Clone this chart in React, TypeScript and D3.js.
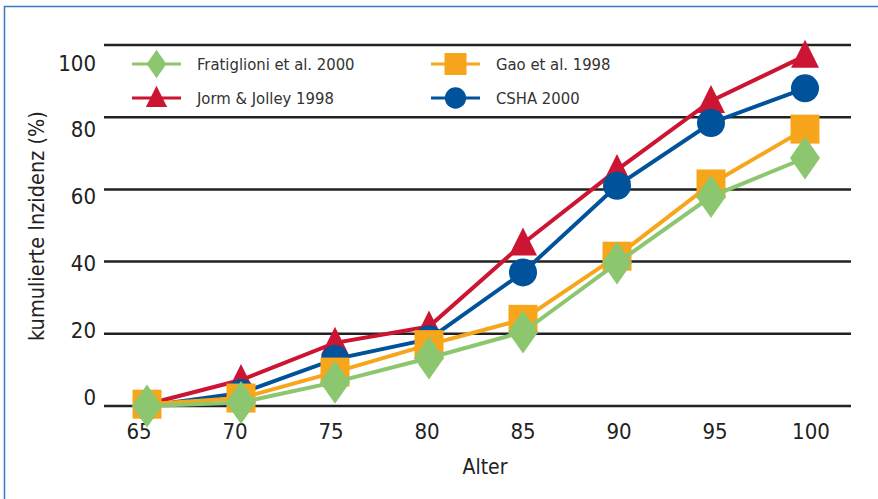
import * as d3 from 'd3'

const ages = [65, 70, 75, 80, 85, 90, 95, 100]
const yTicks = [0, 20, 40, 60, 80, 100]

const fratiglioni = [0, 1, 6.6, 13.3, 20.5, 39.6, 58, 68.7]
const gao = [0.5, 2.2, 9.4, 17, 24, 41.5, 61.5, 76.7]
const jorm = [0.5, 7.2, 17.5, 22, 45, 65.4, 84.5, 97]
const csha = [0, 3.6, 13, 18.5, 37, 61, 78.4, 88]

type Shape = 'diamond' | 'square' | 'triangle' | 'circle'

type Series = {
  name: string
  values: number[]
  color: string
  shape: Shape
}

// draw order: red, blue, orange, green (green ends on top)
const series: Series[] = [
  { name: 'Jorm & Jolley 1998', values: jorm, color: '#cc1433', shape: 'triangle' },
  { name: 'CSHA 2000', values: csha, color: '#00529b', shape: 'circle' },
  { name: 'Gao et al. 1998', values: gao, color: '#f7a61c', shape: 'square' },
  { name: 'Fratiglioni et al. 2000', values: fratiglioni, color: '#8cc66e', shape: 'diamond' },
]

const legendOrder = ['Fratiglioni et al. 2000', 'Gao et al. 1998', 'Jorm & Jolley 1998', 'CSHA 2000']

const font = '"DejaVu Sans", sans-serif'

function markerPath(shape: Shape, scale: number) {
  if (shape === 'diamond') {
    const w = 15 * scale
    const h = 21.5 * scale
    return `M0,${-h}L${w},0L0,${h}L${-w},0Z`
  }
  if (shape === 'square') {
    const s = 14.5 * scale
    return `M${-s},${-s}H${s}V${s}H${-s}Z`
  }
  if (shape === 'triangle') {
    const w = 14 * scale
    return `M0,${-16 * scale}L${w},${12 * scale}L${-w},${12 * scale}Z`
  }
  return d3.symbol(d3.symbolCircle, Math.PI * (14 * scale) ** 2)() ?? ''
}

export default function App() {
  const width = 878
  const height = 499

  const x = d3.scalePoint<number>().domain(ages).range([147, 805])
  const xLabel = d3.scaleLinear().domain([65, 100]).range([139, 811])
  const y = d3.scaleLinear().domain([0, 100]).range([406, 45])
  const yLabel = d3.scaleLinear().domain([0, 100]).range([397, 63])

  const line = d3
    .line<number>()
    .x((_, i) => x(ages[i]) ?? 0)
    .y((d) => y(d))

  const legendPos = [
    { x: 132, y: 64 },
    { x: 431, y: 64 },
    { x: 132, y: 98 },
    { x: 431, y: 98 },
  ]

  return (
    <div style={{ position: 'absolute', left: 0, top: 0 }}>
      <svg width={width} height={height} style={{ display: 'block', background: '#fff' }}>
        <path d={`M4.5,${height}V6.5H${width}`} fill="none" stroke="#3b78c4" strokeWidth={1.5} />

        {yTicks.map((t) => (
          <g key={t}>
            <line x1={104} x2={851} y1={y(t)} y2={y(t)} stroke="#222" strokeWidth={2.5} />
            <text
              x={96}
              y={yLabel(t)}
              textAnchor="end"
              dominantBaseline="central"
              fontFamily={font}
              fontStretch="condensed"
              fontSize={22}
              fill="#222"
            >
              {t}
            </text>
          </g>
        ))}

        {ages.map((a) => (
          <text
            key={a}
            x={xLabel(a)}
            y={431}
            textAnchor="middle"
            dominantBaseline="central"
            fontFamily={font}
            fontStretch="condensed"
            fontSize={22}
            fill="#222"
          >
            {a}
          </text>
        ))}

        <text
          x={485}
          y={467}
          textAnchor="middle"
          dominantBaseline="central"
          fontFamily={font}
          fontStretch="condensed"
          fontSize={21}
          fill="#222"
        >
          Alter
        </text>
        <text
          transform="translate(36,226) rotate(-90)"
          textAnchor="middle"
          dominantBaseline="central"
          fontFamily={font}
          fontStretch="condensed"
          fontSize={21.5}
          fill="#222"
        >
          kumulierte Inzidenz (%)
        </text>

        {legendOrder.map((name, i) => {
          const s = series.find((d) => d.name === name)!
          const p = legendPos[i]
          return (
            <g key={name}>
              <line x1={p.x} x2={p.x + 49} y1={p.y} y2={p.y} stroke={s.color} strokeWidth={3} />
              <path
                transform={`translate(${p.x + 24.5},${p.y})`}
                d={markerPath(s.shape, s.shape === 'diamond' ? 0.66 : 0.76)}
                fill={s.color}
              />
              <text
                x={p.x + 65}
                y={p.y}
                dominantBaseline="central"
                fontFamily={font}
                fontStretch="condensed"
                fontSize={16.5}
                fill="#333"
              >
                {name}
              </text>
            </g>
          )
        })}

        {series.map((s) => (
          <g key={s.name}>
            <path d={line(s.values) ?? ''} fill="none" stroke={s.color} strokeWidth={4} />
            {s.values.map((v, i) => (
              <path
                key={i}
                transform={`translate(${x(ages[i])},${y(v)})`}
                d={markerPath(s.shape, 1)}
                fill={s.color}
              />
            ))}
          </g>
        ))}
      </svg>
    </div>
  )
}
